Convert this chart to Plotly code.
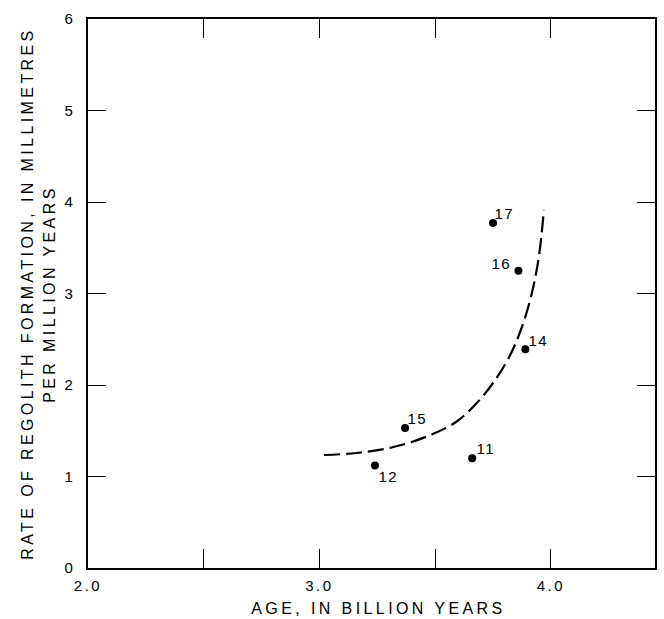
import plotly.graph_objects as go

# Data points (mission sites)
site_labels = ["17", "16", "14", "15", "11", "12"]
site_age = [3.75, 3.86, 3.89, 3.37, 3.66, 3.24]
site_rate = [3.77, 3.25, 2.39, 1.53, 1.20, 1.12]

# Dashed fitted curve
curve_age = [3.02, 3.16, 3.32, 3.47, 3.59, 3.68, 3.75, 3.82, 3.875, 3.918, 3.948, 3.97]
curve_rate = [1.235, 1.257, 1.322, 1.443, 1.596, 1.803, 2.022, 2.306, 2.634, 3.005, 3.399, 3.913]

x_tickvals = [2.0, 2.5, 3.0, 3.5, 4.0]
x_ticktext = ["2.0", "", "3.0", "", "4.0"]
y_tickvals = [0, 1, 2, 3, 4, 5, 6]
y_ticktext = ["0", "1", "2", "3", "4", "5", "6"]

FONT = "Liberation Sans, Arial, sans-serif"

fig = go.Figure()
fig.add_trace(go.Scatter(
    x=curve_age, y=curve_rate, mode="lines",
    line=dict(color="black", width=2.2, dash="16px,6px", shape="spline"),
    hoverinfo="skip", showlegend=False))
fig.add_trace(go.Scatter(
    x=site_age, y=site_rate, mode="markers",
    marker=dict(color="black", size=8),
    showlegend=False))

# label offsets (pixels) for point labels
label_pos = {
    "17": ("left", 1, 10),
    "16": ("right", -6, 7),
    "14": ("left", 3, 9),
    "15": ("left", 2, 10),
    "11": ("left", 4, 10),
    "12": ("left", 3, -11),
}

annotations = [
    dict(text="RATE OF REGOLITH FORMATION, IN MILLIMETRES", xref="paper", yref="paper",
         x=-0.106, y=0.50, xanchor="center", yanchor="middle", textangle=-90,
         showarrow=False, font=dict(family=FONT, size=16, color="black")),
    dict(text="PER MILLION YEARS", xref="paper", yref="paper",
         x=-0.068, y=0.50, xanchor="center", yanchor="middle", textangle=-90,
         showarrow=False, font=dict(family=FONT, size=16, color="black")),
    dict(text="AGE, IN BILLION YEARS", xref="paper", yref="paper",
         x=0.513, y=-0.074, xanchor="center", yanchor="middle",
         showarrow=False, font=dict(family=FONT, size=16, color="black")),
]
for lab, a, r in zip(site_labels, site_age, site_rate):
    anchor, xs, ys = label_pos[lab]
    annotations.append(dict(text=lab, x=a, y=r, xref="x", yref="y",
                            xanchor=anchor, yanchor="middle", xshift=xs, yshift=ys,
                            showarrow=False,
                            font=dict(family=FONT, size=15, color="black")))

fig.update_layout(
    width=664, height=619,
    margin=dict(l=88, r=7, t=19, b=51),
    paper_bgcolor="white", plot_bgcolor="white",
    font=dict(family=FONT, size=15, color="black"),
    annotations=annotations,
    showlegend=False,
)
fig.update_xaxes(
    range=[2.0, 4.45], tickvals=x_tickvals, ticktext=x_ticktext,
    ticks="inside", ticklen=19, tickwidth=1.3, tickcolor="black",
    showline=True, linecolor="black", linewidth=1.5, mirror="ticks",
    showgrid=False, zeroline=False, ticklabelstandoff=3,
    tickfont=dict(family=FONT, size=15, color="black"))
fig.update_yaxes(
    range=[0, 6], tickvals=y_tickvals, ticktext=y_ticktext,
    ticks="inside", ticklen=18, tickwidth=1.3, tickcolor="black",
    showline=True, linecolor="black", linewidth=1.5, mirror="ticks",
    showgrid=False, zeroline=False, ticklabelstandoff=8,
    tickfont=dict(family=FONT, size=15, color="black"))

post = """
var gd = document.getElementById('{plot_id}');
document.body.style.margin = '0';
gd.querySelectorAll('.xtick text, .ytick text').forEach(function(t){ t.style.letterSpacing = '2.5px'; });
gd.querySelectorAll('g.annotation').forEach(function(g){
  var i = parseInt(g.getAttribute('data-index'));
  var t = g.querySelector('text');
  if (t) { t.style.letterSpacing = (i < 3) ? '3.4px' : '1.5px'; }
});
"""
fig.write_html("out.html", post_script=post, config={"displayModeBar": False})
